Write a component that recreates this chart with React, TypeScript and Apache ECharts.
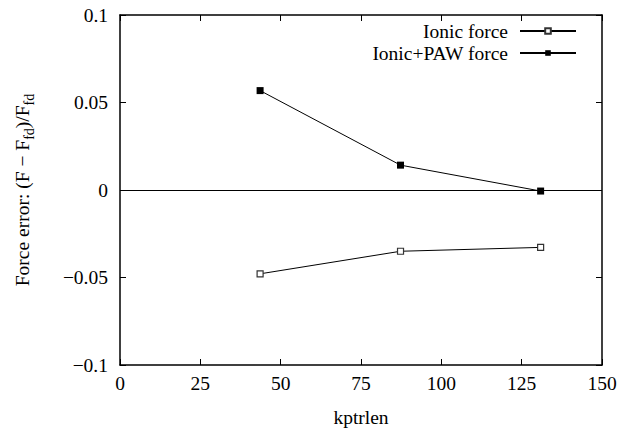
import React, { useEffect, useRef } from "react";
import * as echarts from "echarts";

const kptrlen = [43.6, 87.3, 130.9];
const ionicForce = [-0.0479, -0.035, -0.0328];
const ionicPawForce = [0.0568, 0.0142, -0.0006];

const FONT = "'Liberation Serif', 'Times New Roman', Times, serif";

function fmtY(v: number): string {
  if (Math.abs(v) < 1e-9) return "0";
  const s = String(Math.abs(Math.round(v * 100) / 100));
  return v < 0 ? "\u2212" + s : s;
}

export default function App() {
  const ref = useRef<HTMLDivElement>(null);
  useEffect(() => {
    if (!ref.current) return;
    const chart = echarts.init(ref.current, undefined, { renderer: "svg" });
    const axisCommon = {
      axisLine: { show: true, onZero: false, lineStyle: { color: "#000", width: 1.5 } },
      axisTick: { show: true, inside: true, length: 6, lineStyle: { color: "#000", width: 1 } },
      splitLine: { show: false },
    };
    chart.setOption({
      animation: false,
      backgroundColor: "#fff",
      textStyle: { fontFamily: FONT },
      grid: { left: 120, right: 21, top: 15, bottom: 64.5, containLabel: false },
      legend: {
        orient: "vertical",
        right: 41,
        top: 16,
        align: "right",
        itemWidth: 56,
        itemHeight: 7,
        itemGap: 2,
        textStyle: { fontFamily: FONT, fontSize: 19.5, color: "#000", padding: [0, 7, 0, 0] },
        data: ["Ionic force", "Ionic+PAW force"],
      },
      xAxis: [
        {
          type: "value",
          min: 0,
          max: 150,
          interval: 25,
          position: "bottom",
          ...axisCommon,
          axisLabel: { color: "#000", fontSize: 19.5, fontFamily: FONT, margin: 8 },
          name: "kptrlen",
          nameLocation: "middle",
          nameGap: 42,
          nameTextStyle: { color: "#000", fontSize: 19.5, fontFamily: FONT },
        },
        {
          type: "value",
          min: 0,
          max: 150,
          interval: 25,
          position: "top",
          ...axisCommon,
          axisLabel: { show: false },
        },
      ],
      yAxis: [
        {
          type: "value",
          min: -0.1,
          max: 0.1,
          interval: 0.05,
          position: "left",
          ...axisCommon,
          axisLabel: {
            color: "#000",
            fontSize: 19.5,
            fontFamily: FONT,
            margin: 12,
            formatter: (v: number) => fmtY(v),
          },
          name: "{a|Force error: (F \u2212 F}{s|fd}{a|)/F}{s|fd}",
          nameLocation: "middle",
          nameGap: 88,
          nameRotate: 90,
          nameTextStyle: {
            rich: {
              a: { fontFamily: FONT, fontSize: 19.5, color: "#000", verticalAlign: "bottom", lineHeight: 22 },
              s: { fontFamily: FONT, fontSize: 14, color: "#000", verticalAlign: "bottom", lineHeight: 15, padding: [0, 0, -4, 0] },
            },
          },
        },
        {
          type: "value",
          min: -0.1,
          max: 0.1,
          interval: 0.05,
          position: "right",
          ...axisCommon,
          axisLabel: { show: false },
        },
      ],
      series: [
        {
          name: "Ionic force",
          type: "line",
          data: kptrlen.map((x, i) => [x, ionicForce[i]]),
          symbol: "rect",
          symbolSize: 6,
          itemStyle: { color: "#fff", borderColor: "#333", borderWidth: 1.2 },
          lineStyle: { color: "#000", width: 1 },
          markLine: {
            silent: true,
            symbol: "none",
            label: { show: false },
            lineStyle: { color: "#000", width: 1, type: "solid" },
            data: [{ yAxis: 0 }],
          },
        },
        {
          name: "Ionic+PAW force",
          type: "line",
          data: kptrlen.map((x, i) => [x, ionicPawForce[i]]),
          symbol: "rect",
          symbolSize: 7,
          itemStyle: { color: "#000", borderColor: "#000", borderWidth: 0 },
          lineStyle: { color: "#000", width: 1 },
        },
      ],
    });
    return () => chart.dispose();
  }, []);
  return <div ref={ref} style={{ width: 623, height: 432, position: "absolute", left: 0, top: 0 }} />;
}
